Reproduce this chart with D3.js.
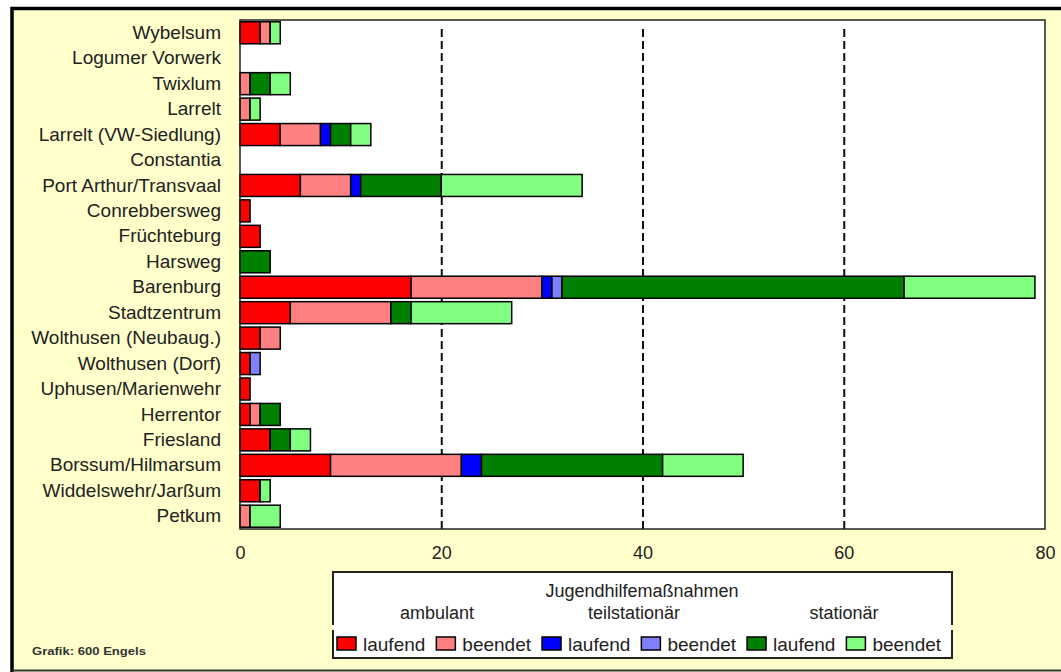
<!DOCTYPE html>
<html lang="de">
<head>
<meta charset="utf-8">
<title>Jugendhilfemaßnahmen nach Stadtteilen</title>
<script src="https://cdn.jsdelivr.net/npm/d3@7"></script>
<style>
  html, body { margin: 0; padding: 0; background: #ffffff; }
  svg { display: block; font-family: "Liberation Sans", Arial, sans-serif; }
</style>
</head>
<body>
<svg id="chart" width="1061" height="672"></svg>
<script>
// Stadtteile, von oben nach unten
const districts = [
  "Wybelsum", "Logumer Vorwerk", "Twixlum", "Larrelt", "Larrelt (VW-Siedlung)",
  "Constantia", "Port Arthur/Transvaal", "Conrebbersweg", "Früchteburg", "Harsweg",
  "Barenburg", "Stadtzentrum", "Wolthusen (Neubaug.)", "Wolthusen (Dorf)",
  "Uphusen/Marienwehr", "Herrentor", "Friesland", "Borssum/Hilmarsum",
  "Widdelswehr/Jarßum", "Petkum"
];

// Anzahl der Maßnahmen je Stadtteil
const ambulantLaufend       = [2, 0, 0, 0, 4, 0, 6, 1, 2, 0, 17, 5, 2, 1, 1, 1, 3, 9, 2, 0];
const ambulantBeendet       = [1, 0, 1, 1, 4, 0, 5, 0, 0, 0, 13, 10, 2, 0, 0, 1, 0, 13, 0, 1];
const teilstationaerLaufend = [0, 0, 0, 0, 1, 0, 1, 0, 0, 0, 1, 0, 0, 0, 0, 0, 0, 2, 0, 0];
const teilstationaerBeendet = [0, 0, 0, 0, 0, 0, 0, 0, 0, 0, 1, 0, 0, 1, 0, 0, 0, 0, 0, 0];
const stationaerLaufend     = [0, 0, 2, 0, 2, 0, 8, 0, 0, 3, 34, 2, 0, 0, 0, 2, 2, 18, 0, 0];
const stationaerBeendet     = [1, 0, 2, 1, 2, 0, 14, 0, 0, 0, 13, 10, 0, 0, 0, 0, 2, 8, 1, 3];

const xTicks = [0, 20, 40, 60, 80];
const groupLabels = ["ambulant", "teilstationär", "stationär"];
const legendTitle = "Jugendhilfemaßnahmen";
const seriesLabels = ["laufend", "beendet", "laufend", "beendet", "laufend", "beendet"];
const credit = "Grafik: 600 Engels";

const seriesKeys = ["ambL", "ambB", "teilL", "teilB", "statL", "statB"];
const seriesColors = ["#ff0000", "#ff8080", "#0000ff", "#8080ff", "#008000", "#80ff80"];
const seriesValues = [ambulantLaufend, ambulantBeendet, teilstationaerLaufend,
                      teilstationaerBeendet, stationaerLaufend, stationaerBeendet];

const rows = districts.map((name, i) => {
  const r = { name };
  seriesKeys.forEach((k, j) => { r[k] = seriesValues[j][i]; });
  return r;
});

const svg = d3.select("#chart");
const W = 1061, H = 672;

// Hintergrund mit Rahmen oben und links
svg.append("rect").attr("x", 0).attr("y", 0).attr("width", W).attr("height", H).attr("fill", "#ffffff");
svg.append("rect").attr("x", 12).attr("y", 9).attr("width", W - 12).attr("height", H - 9).attr("fill", "#ffffcc");
svg.append("path")
  .attr("d", `M12,${H} L12,8.5 L${W},8.5`)
  .attr("fill", "none").attr("stroke", "#000").attr("stroke-width", 3.5);
svg.append("line")
  .attr("x1", 12).attr("x2", W).attr("y1", 670.5).attr("y2", 670.5)
  .attr("stroke", "#333").attr("stroke-width", 2);

// Diagrammfläche
const plot = { left: 240, right: 1045, top: 20, bottom: 529 };

const x = d3.scaleLinear().domain([0, 80]).range([plot.left, plot.right]);
const y = d3.scaleBand().domain(districts).range([plot.top, plot.bottom])
  .paddingInner(0.135).paddingOuter(0.07);

svg.append("rect")
  .attr("x", plot.left).attr("y", plot.top)
  .attr("width", plot.right - plot.left).attr("height", plot.bottom - plot.top)
  .attr("fill", "#ffffff");

// Gestrichelte Gitterlinien
const grid = svg.append("g")
  .attr("transform", `translate(0,${plot.bottom})`)
  .call(d3.axisBottom(x).tickValues(xTicks.filter(v => v > 0 && v < 80))
    .tickSize(-(plot.bottom - plot.top - 6)).tickFormat(""));
grid.select(".domain").remove();
grid.selectAll(".tick line")
  .attr("stroke", "#111").attr("stroke-width", 2).attr("stroke-dasharray", "8,4");

// Gestapelte Balken
const stack = d3.stack().keys(seriesKeys);
const layers = stack(rows);

svg.append("g").selectAll("g")
  .data(layers)
  .join("g")
  .attr("fill", (d, i) => seriesColors[i])
  .selectAll("rect")
  .data(d => d.filter(s => s[1] - s[0] > 0))
  .join("rect")
  .attr("x", d => x(d[0]))
  .attr("y", d => y(d.data.name))
  .attr("width", d => x(d[1]) - x(d[0]))
  .attr("height", y.bandwidth())
  .attr("stroke", "#000")
  .attr("stroke-width", 1.5);

// Rahmen der Diagrammfläche
svg.append("rect")
  .attr("x", plot.left).attr("y", plot.top)
  .attr("width", plot.right - plot.left).attr("height", plot.bottom - plot.top)
  .attr("fill", "none").attr("stroke", "#222").attr("stroke-width", 1.5);

// Achsen
const yAxis = svg.append("g")
  .attr("transform", `translate(${plot.left},0)`)
  .call(d3.axisLeft(y).tickSize(0).tickPadding(19));
yAxis.select(".domain").remove();
yAxis.selectAll("text")
  .attr("font-size", 19).attr("fill", "#222")
  .attr("font-family", "Liberation Sans, Arial, sans-serif");

const xAxis = svg.append("g")
  .attr("transform", `translate(0,${plot.bottom})`)
  .call(d3.axisBottom(x).tickValues(xTicks).tickSize(0).tickPadding(17).tickFormat(d3.format("d")));
xAxis.select(".domain").remove();
xAxis.selectAll("text")
  .attr("font-size", 18).attr("fill", "#222")
  .attr("font-family", "Liberation Sans, Arial, sans-serif");

// Legende
const lg = { x: 333, y: 572, w: 619, h: 86, gapTop: 625, gapBottom: 630 };
const legend = svg.append("g");
legend.append("rect")
  .attr("x", lg.x).attr("y", lg.y).attr("width", lg.w).attr("height", lg.h)
  .attr("fill", "#ffffff");
legend.append("path")
  .attr("d", `M${lg.x},${lg.gapTop} L${lg.x},${lg.y} L${lg.x + lg.w},${lg.y} L${lg.x + lg.w},${lg.gapTop}
              M${lg.x},${lg.gapBottom} L${lg.x},${lg.y + lg.h} L${lg.x + lg.w},${lg.y + lg.h} L${lg.x + lg.w},${lg.gapBottom}`)
  .attr("fill", "none").attr("stroke", "#222").attr("stroke-width", 2);

legend.append("text")
  .attr("x", 642).attr("y", 597).attr("text-anchor", "middle")
  .attr("font-size", 18).attr("fill", "#222").text(legendTitle);

const groupCenters = [437, 634, 844];
legend.selectAll("text.group")
  .data(groupLabels)
  .join("text")
  .attr("class", "group")
  .attr("x", (d, i) => groupCenters[i]).attr("y", 619)
  .attr("text-anchor", "middle")
  .attr("font-size", 18).attr("fill", "#222")
  .text(d => d);

let cursor = 337;
seriesLabels.forEach((label, i) => {
  legend.append("rect")
    .attr("x", cursor).attr("y", 637).attr("width", 19).attr("height", 13)
    .attr("fill", seriesColors[i]).attr("stroke", "#000").attr("stroke-width", 1.5);
  const t = legend.append("text")
    .attr("x", cursor + 26).attr("y", 651)
    .attr("font-size", 19).attr("fill", "#222")
    .text(label);
  cursor += 26 + t.node().getComputedTextLength() + 11;
});

// Quellenangabe
svg.append("text")
  .attr("x", 32).attr("y", 655)
  .attr("font-size", 11).attr("font-weight", "bold").attr("fill", "#333")
  .attr("textLength", 114).attr("lengthAdjust", "spacingAndGlyphs")
  .text(credit);
</script>
</body>
</html>
